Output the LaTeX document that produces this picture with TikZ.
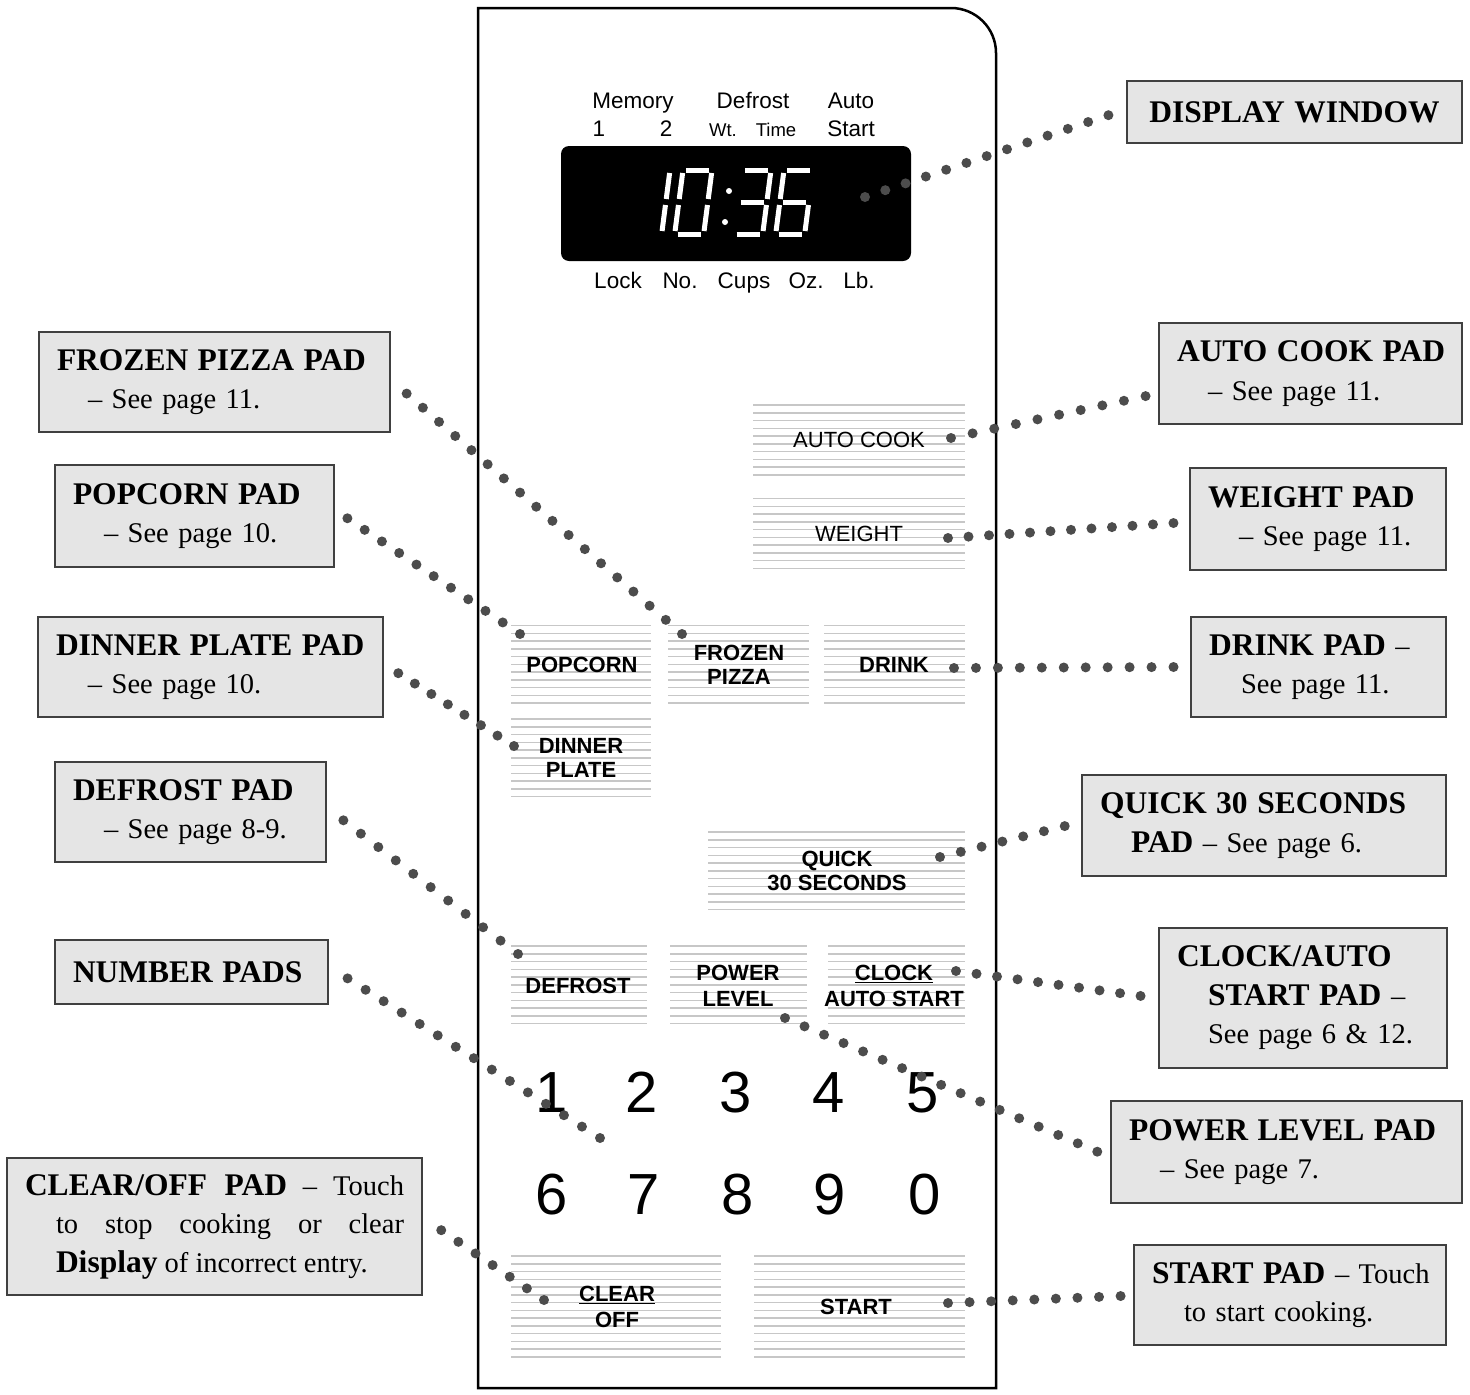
\documentclass[tikz,border=0pt]{standalone}
\usepackage{fontspec}
\setmainfont{Liberation Serif}
\newfontfamily\padfont{Liberation Sans}
\usetikzlibrary{positioning}
\setlength{\parindent}{0pt}

% bold heading of a callout
\newcommand{\hd}[1]{{\fontsize{31.5}{38.5}\selectfont\bfseries #1}}

% lcd segments of one digit (cell 29 x 64, y downwards)
\def\segA{(3,0)--(26,0)}
\def\segB{(29,3)--(29,29)}
\def\segC{(29,35)--(29,61)}
\def\segD{(3,64)--(26,64)}
\def\segE{(0,35)--(0,61)}
\def\segF{(0,3)--(0,29)}
\def\segG{(3,32)--(26,32)}
\newcommand{\lcddigit}[2]{%
  \begin{scope}[shift={(#1,170)}, xslant=0.13]
    \foreach \s in {#2} {\edef\segpath{\noexpand\draw[lcdseg] \csname seg\s\endcsname;}\segpath}
  \end{scope}}

% striped touch pad: x1, x2, top line, number of lines
\newcommand{\padstripes}[4]{%
  \foreach \i in {1,...,#4}
    \draw[stripe] (#1,{#3+7.75*(\i-1)}) -- (#2,{#3+7.75*(\i-1)});}

\begin{document}
\begin{tikzpicture}[x=1pt, y=-1pt,
  callout/.style={draw=black!75, fill=black!10, line width=1.3pt,
    inner xsep=18pt, inner ysep=0pt, align=left,
    font=\fontsize{28.5}{38.5}\selectfont},
  padlbl/.style={font=\padfont\bfseries\fontsize{22}{24}\selectfont,
    align=center, inner sep=0pt},
  padthin/.style={font=\padfont\fontsize{22}{24}\selectfont, inner sep=0pt},
  lcdtxt/.style={font=\padfont\fontsize{22.5}{24}\selectfont, inner sep=0pt, anchor=base},
  lcdsmall/.style={lcdtxt, font=\padfont\fontsize{18.5}{20}\selectfont},
  numpad/.style={font=\padfont\fontsize{58}{60}\selectfont, inner sep=0pt, anchor=base},
  stripe/.style={draw=black!22, line width=1.5pt},
  lcdseg/.style={draw=white, line width=5pt},
  leader/.style={draw=black!70, line width=10pt, line cap=round},
]
\useasboundingbox (0,0) rectangle (1470,1395);

%% -- control panel -------------------------------------------------------
\draw[line width=2.5pt] (478,1388) -- (478,8) -- (951,8)
  .. controls (975.85,8) and (996,28.15) .. (996,53) -- (996,1388) -- cycle;

%% -- display window ------------------------------------------------------
\fill[black, rounded corners=8pt] (561,146) rectangle (911,261);
\lcddigit{641}{B,C}
\lcddigit{683}{A,B,C,D,E,F}
\lcddigit{742}{A,B,C,D,G}
\lcddigit{784}{A,C,D,E,F,G}
\fill[white] (729,191) circle (3pt) (725,222) circle (3pt);

\node[lcdtxt] (lmem) at (633,108) {Memory};
\node[lcdtxt] (ldef) at (753,108) {Defrost};
\node[lcdtxt] (lauto) at (851,108) {Auto};
\node[lcdtxt] (lone) at (599,136) {1};
\node[lcdtxt] (ltwo) at (666,136) {2};
\node[lcdsmall] (lwt) at (723,136) {Wt.};
\node[lcdsmall] (ltime) at (776,136) {Time};
\node[lcdtxt] (lstart) at (851,136) {Start};
\node[lcdtxt] (llock) at (618,288) {Lock};
\node[lcdtxt] (lno) at (680,288) {No.};
\node[lcdtxt] (lcups) at (744,288) {Cups};
\node[lcdtxt] (loz) at (806,288) {Oz.};
\node[lcdtxt] (llb) at (859,288) {Lb.};

%% -- touch pads ----------------------------------------------------------
\padstripes{753}{965}{405}{10}
\padstripes{753}{965}{498.7}{10}
\padstripes{511}{651}{625.7}{11}
\padstripes{668}{809}{625.7}{11}
\padstripes{824}{965}{625.7}{11}
\padstripes{511}{651}{719}{11}
\padstripes{708}{965}{832}{11}
\padstripes{511}{647}{946}{11}
\padstripes{670}{807}{946}{11}
\padstripes{828}{965}{946}{11}
\padstripes{511}{721}{1256}{14}
\padstripes{754}{965}{1256}{14}

\node[padthin] (acook) at (859,440) {AUTO COOK};
\node[padthin] (wgt) at (859,534) {WEIGHT};
\node[padlbl] (popc) at (582,665) {POPCORN};
\node[padlbl] (fpiz) at (739,665) {FROZEN\\PIZZA};
\node[padlbl] (drk) at (894,665) {DRINK};
\node[padlbl] (dplate) at (581,758) {DINNER\\PLATE};
\node[padlbl] (q30) at (837,871) {QUICK\\30 SECONDS};
\node[padlbl] (dfr) at (578,986) {DEFROST};
\node[padlbl, font=\padfont\bfseries\fontsize{22}{26}\selectfont] (pwr) at (738,986) {POWER\\LEVEL};
\node[padlbl, font=\padfont\bfseries\fontsize{22}{26}\selectfont] (clk) at (894,986) {\underline{CLOCK}\\AUTO START};
\node[padlbl, font=\padfont\bfseries\fontsize{22}{26}\selectfont] (clr) at (617,1307) {\underline{CLEAR}\\OFF};
\node[padlbl] (strt) at (856,1307) {START};

%% -- number pads ---------------------------------------------------------
\node[numpad] (n1) at (552,1112) {1};
\node[numpad] (n2) at (642,1112) {2};
\node[numpad] (n3) at (736,1112) {3};
\node[numpad] (n4) at (829,1112) {4};
\node[numpad] (n5) at (923,1112) {5};
\node[numpad] (n6) at (552,1214) {6};
\node[numpad] (n7) at (644,1214) {7};
\node[numpad] (n8) at (738,1214) {8};
\node[numpad] (n9) at (830,1214) {9};
\node[numpad] (n0) at (925,1214) {0};

%% -- callouts, right -----------------------------------------------------
\node[callout, align=center, text width=299pt, minimum height=62pt] (dispwin) at (1294.5,112) {\hd{DISPLAY WINDOW}};
\node[callout, text width=267pt, minimum height=101pt] (autocook) at (1310.5,373.5) {\mbox{\hd{AUTO COOK PAD}}\\\hspace*{31pt}-- See page 11.};
\node[callout, text width=220pt, minimum height=102pt] (weight) at (1318,519) {\mbox{\hd{WEIGHT PAD}}\\\hspace*{31pt}-- See page 11.};
\node[callout, text width=219pt, minimum height=100pt] (drink) at (1318.5,667) {\mbox{\hd{DRINK PAD} --}\\\hspace*{32pt}See page 11.};
\node[callout, text width=328pt, minimum height=101pt] (quick) at (1264,825.5) {\mbox{\hd{QUICK 30 SECONDS}}\\\hspace*{31pt}\hd{PAD} -- See page 6.};
\node[callout, text width=252pt, minimum height=140pt] (clock) at (1303,998) {\hd{CLOCK/AUTO}\\\hspace*{31pt}\mbox{\hd{START PAD} --}\\\hspace*{31pt}See page 6 \& 12.};
\node[callout, text width=315pt, minimum height=102pt] (power) at (1286.5,1152) {\mbox{\hd{POWER LEVEL PAD}}\\\hspace*{31pt}-- See page 7.};
\node[callout, text width=276pt, minimum height=100pt] (start) at (1290,1295) {\mbox{\hd{START PAD} -- Touch}\\\hspace*{32pt}to start cooking.};

%% -- callouts, left ------------------------------------------------------
\node[callout, text width=315pt, minimum height=100pt] (pizza) at (214.5,382) {\mbox{\hd{FROZEN PIZZA PAD}}\\\hspace*{31pt}-- See page 11.};
\node[callout, text width=243pt, minimum height=102pt] (popcorn) at (194.5,516) {\mbox{\hd{POPCORN PAD}}\\\hspace*{31pt}-- See page 10.};
\node[callout, text width=309pt, minimum height=100pt] (dinner) at (210.5,667) {\mbox{\hd{DINNER PLATE PAD}}\\\hspace*{32pt}-- See page 10.};
\node[callout, text width=235pt, minimum height=100pt] (defrost) at (190.5,812) {\mbox{\hd{DEFROST PAD}}\\\hspace*{31pt}-- See page 8-9.};
\node[callout, text width=237pt, minimum height=64pt] (number) at (191.5,972) {\mbox{\hd{NUMBER PADS}}};
\node[callout, align=justify, text width=379pt, minimum height=137pt] (clear) at (214.5,1226.5)
  {\hd{CLEAR/OFF PAD} -- Touch\linebreak\hspace*{31pt}to stop cooking or clear\linebreak\hspace*{31pt}\hd{Display} of incorrect entry.};

%% -- dotted leaders: pad end / callout end, dots evenly spread ------------
\foreach \k/\ax/\ay/\bx/\by in {disp/865/197/1109/115, acook/951/438/1146/396,
    wgt/948/538/1174/523, drk/954/668/1174/667, q30/940/857/1065/826,
    clk/956/971/1141/996, pwr/785/1018/1098/1152, strt/948/1303/1121/1296,
    fpiz/682/634/406/393, popc/520/634/347/518, dpl/514/746/398/673,
    dfr/518/954/343/820, num/600/1138/347/978, clr/544/1300/441/1230} {
  \coordinate (\k-p) at (\ax,\ay);
  \coordinate (\k-c) at (\bx,\by);
  \pgfmathsetmacro\leadlen{veclen(\bx-\ax,\by-\ay)}
  \pgfmathsetmacro\leadstep{\leadlen/round(\leadlen/21)-0.05}
  \draw[leader, dash pattern=on 0pt off \leadstep pt] (\k-p) -- (\k-c);
}

\end{tikzpicture}
\end{document}
